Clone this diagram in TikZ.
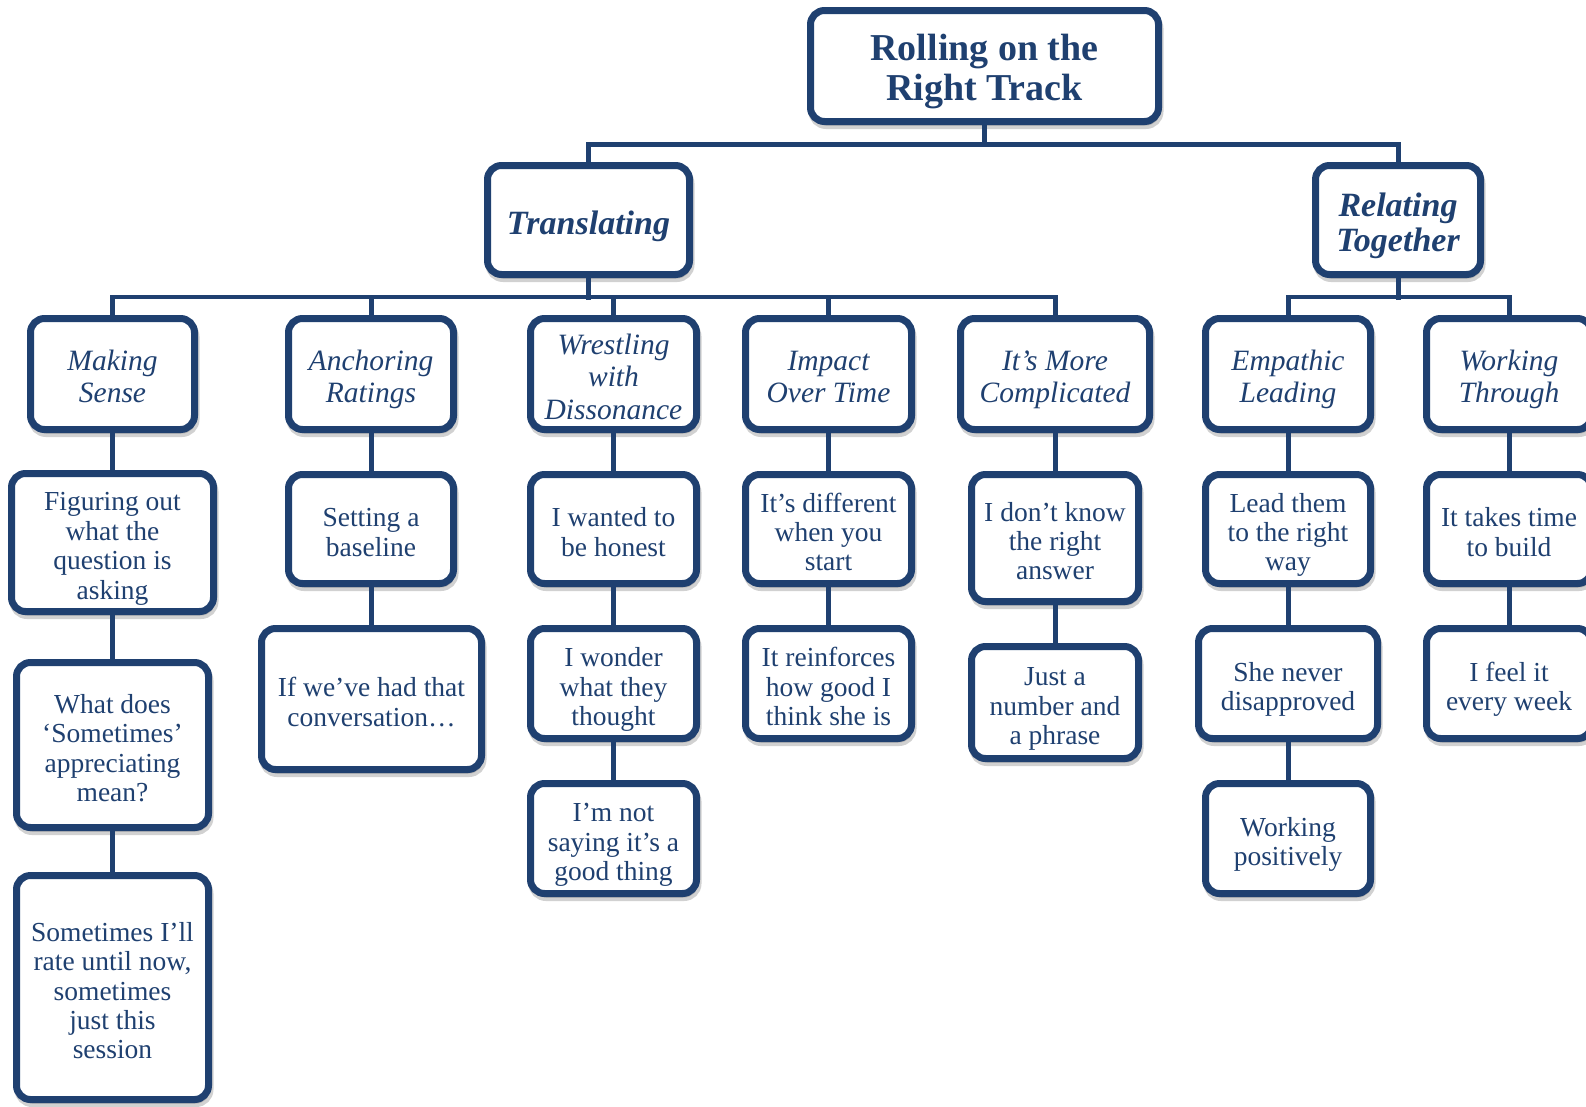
\documentclass[tikz,border=0pt]{standalone}
\usepackage{fontspec}
\setmainfont{Liberation Serif}
\usetikzlibrary{shadows}
\definecolor{navy}{RGB}{31,64,112}
\def\txtdrop{5pt}
\newcommand\boxtxt[1]{\raisebox{-\dimexpr0.25em+\txtdrop\relax}[0pt][0pt]{\begin{tabular}{@{}c@{}}#1\end{tabular}}}
\tikzset{
  box/.style={draw=navy, line width=7pt, rounded corners=14pt, fill=white,
    inner sep=0pt, text=navy,
    drop shadow={shadow xshift=1.5pt, shadow yshift=-4pt, opacity=0.18, fill=black, draw=black, line width=7pt}},
  rootbox/.style={box, font=\bfseries\fontsize{38}{40}\selectfont\def\txtdrop{3pt}},
  topicbox/.style={box, font=\bfseries\itshape\fontsize{34}{35}\selectfont\def\txtdrop{5pt}},
  subbox/.style={box, font=\itshape\fontsize{29.5}{32.4}\selectfont\def\txtdrop{5pt}},
  leafbox/.style={box, font=\fontsize{27.5}{29.4}\selectfont\def\txtdrop{6pt}},
  conn/.style={draw=navy, line width=5pt, line cap=rect},
  bar/.style={draw=navy, line width=4pt, line cap=rect},
}
\begin{document}
\begin{tikzpicture}[x=1pt,y=-1pt]
\useasboundingbox (0,0) rectangle (1586,1106);
% root and topics
\node[rootbox, minimum width=348pt, minimum height=111pt] (root) at (984.5,66) {\boxtxt{Rolling on the\\Right Track}};
\node[topicbox, minimum width=202pt, minimum height=109pt] (trans) at (588.5,220) {\boxtxt{Translating}};
\node[topicbox, minimum width=165pt, minimum height=109pt] (rel) at (1398,220) {\boxtxt{Relating\\Together}};
% level 2
\node[subbox, minimum width=164pt, minimum height=111pt] (making) at (112.5,374) {\boxtxt{Making\\Sense}};
\node[subbox, minimum width=165pt, minimum height=111pt] (anchor) at (371,374) {\boxtxt{Anchoring\\Ratings}};
\node[subbox, minimum width=166pt, minimum height=111pt] (wrest) at (613.5,374) {\boxtxt{Wrestling\\with\\Dissonance}};
\node[subbox, minimum width=166pt, minimum height=111pt] (impact) at (828.5,374) {\boxtxt{Impact\\Over Time}};
\node[subbox, minimum width=189pt, minimum height=111pt] (compl) at (1055,374) {\boxtxt{It’s More\\Complicated}};
\node[subbox, minimum width=165pt, minimum height=111pt] (emp) at (1288,374) {\boxtxt{Empathic\\Leading}};
\node[subbox, minimum width=165pt, minimum height=111pt] (work) at (1509,374) {\boxtxt{Working\\Through}};
% level 3
\node[leafbox, minimum width=202pt, minimum height=138pt] (fig) at (112.5,542.5) {\boxtxt{Figuring out\\what the\\question is\\asking}};
\node[leafbox, minimum width=165pt, minimum height=109pt] (set) at (371,529) {\boxtxt{Setting a\\baseline}};
\node[leafbox, minimum width=166pt, minimum height=109pt] (honest) at (613.5,529) {\boxtxt{I wanted to\\be honest}};
\node[leafbox, minimum width=166pt, minimum height=109pt] (diff) at (828.5,529) {\boxtxt{It’s different\\when you\\start}};
\node[leafbox, minimum width=167pt, minimum height=127pt] (dont) at (1055,538) {\boxtxt{I don’t know\\the right\\answer}};
\node[leafbox, minimum width=165pt, minimum height=109pt] (lead) at (1288,529) {\boxtxt{Lead them\\to the right\\way}};
\node[leafbox, minimum width=165pt, minimum height=109pt] (takes) at (1509,529) {\boxtxt{It takes time\\to build}};
% level 4
\node[leafbox, minimum width=192pt, minimum height=165pt] (what) at (112.5,745) {\boxtxt{What does\\‘Sometimes’\\appreciating\\mean?}};
\node[leafbox, minimum width=220pt, minimum height=141pt] (ifwe) at (371.5,699) {\boxtxt{If we’ve had that\\conversation…}};
\node[leafbox, minimum width=166pt, minimum height=110pt] (wonder) at (613.5,683.5) {\boxtxt{I wonder\\what they\\thought}};
\node[leafbox, minimum width=166pt, minimum height=110pt] (reinf) at (828.5,683.5) {\boxtxt{It reinforces\\how good I\\think she is}};
\node[leafbox, minimum width=167pt, minimum height=112pt] (just) at (1055,702.5) {\boxtxt{Just a\\number and\\a phrase}};
\node[leafbox, minimum width=179pt, minimum height=110pt] (never) at (1288,683.5) {\boxtxt{She never\\disapproved}};
\node[leafbox, minimum width=165pt, minimum height=110pt] (feel) at (1509,683.5) {\boxtxt{I feel it\\every week}};
% level 5
\node[leafbox, minimum width=192pt, minimum height=224pt] (some) at (112.5,987.5) {\boxtxt{Sometimes I’ll\\rate until now,\\sometimes\\just this\\session}};
\node[leafbox, minimum width=166pt, minimum height=110pt] (notsay) at (613.5,838.5) {\boxtxt{I’m not\\saying it’s a\\good thing}};
\node[leafbox, minimum width=165pt, minimum height=110pt] (workpos) at (1288,838.5) {\boxtxt{Working\\positively}};
% connectors
\coordinate (b0) at (0,144);
\coordinate (b1) at (0,297);
\draw[conn] (root.south) -- (root.south |- b0);
\draw[conn] (trans.north |- b0) -- (rel.north |- b0);
\draw[conn] (trans.north |- b0) -- (trans.north);
\draw[conn] (rel.north |- b0) -- (rel.north);
\draw[conn] (trans.south) -- (trans.south |- b1);
\draw[bar] (making.north |- b1) -- (compl.north |- b1);
\foreach \n in {making,anchor,wrest,impact,compl}
  \draw[conn] (\n.north |- b1) -- (\n.north);
\draw[conn] (rel.south) -- (rel.south |- b1);
\draw[bar] (emp.north |- b1) -- (work.north |- b1);
\foreach \n in {emp,work}
  \draw[conn] (\n.north |- b1) -- (\n.north);
\draw[conn] (making) -- (fig);
\draw[conn] (fig) -- (what);
\draw[conn] (what) -- (some);
\draw[conn] (anchor) -- (set);
\draw[conn] (set.south) -- (ifwe.north -| set.south);
\draw[conn] (wrest) -- (honest);
\draw[conn] (honest) -- (wonder);
\draw[conn] (wonder) -- (notsay);
\draw[conn] (impact) -- (diff);
\draw[conn] (diff) -- (reinf);
\draw[conn] (compl) -- (dont);
\draw[conn] (dont) -- (just);
\draw[conn] (emp) -- (lead);
\draw[conn] (lead) -- (never);
\draw[conn] (never) -- (workpos);
\draw[conn] (work) -- (takes);
\draw[conn] (takes) -- (feel);
\end{tikzpicture}
\end{document}
